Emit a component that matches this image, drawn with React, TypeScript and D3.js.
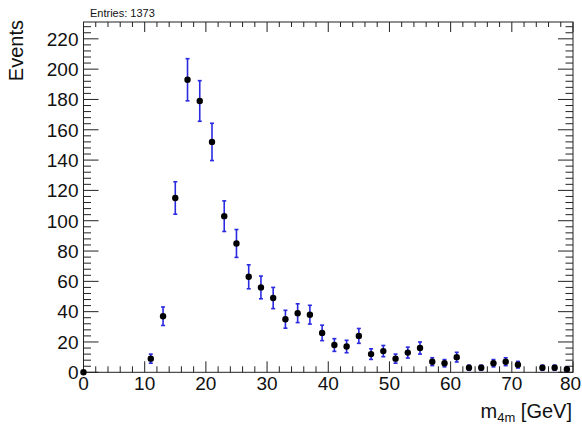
import React, { useEffect, useRef } from 'react';
import * as d3 from 'd3';

// bin centres (2 GeV bins), counts and errors
const binCenters = [0, 11, 13, 15, 17, 19, 21, 23, 25, 27, 29, 31, 33, 35, 37, 39, 41, 43, 45, 47, 49, 51, 53, 55, 57, 59, 61, 63, 65, 67, 69, 71, 75, 77, 79];
const counts = [0, 9, 37, 115, 193, 179, 152, 103, 85, 63, 56, 49, 35, 39, 38, 26, 18, 17, 24, 12, 14, 9, 13, 16, 7, 6, 10, 3, 3, 6, 7, 5, 3, 3, 2];
const errors = [0, 3, 6.1, 10.7, 13.9, 13.4, 12.3, 10.1, 9.2, 7.9, 7.5, 7, 5.9, 6.2, 6.2, 5.1, 4.2, 4.1, 4.9, 3.5, 3.7, 3, 3.6, 4, 2.6, 2.4, 3.2, 1.7, 1.7, 2.4, 2.6, 2.2, 1.7, 1.7, 1.4];
const xTicks = [0, 10, 20, 30, 40, 50, 60, 70, 80];
const yTicks = [0, 20, 40, 60, 80, 100, 120, 140, 160, 180, 200, 220];
const entries = 1373;

const W = 582, H = 425;
const left = 83.5, right = 573, top = 22, bottom = 372.3;
const font = "'Liberation Sans', Arial, sans-serif";

export default function App() {
  const ref = useRef<SVGSVGElement>(null);

  useEffect(() => {
    const svg = d3.select(ref.current);
    svg.selectAll('*').remove();

    const x = d3.scaleLinear().domain([0, 80]).range([left, right]);
    const y = d3.scaleLinear().domain([0, 231.1]).range([bottom, top]);
    const axisColor = '#222';

    // frame
    svg.append('rect')
      .attr('x', left).attr('y', top)
      .attr('width', right - left).attr('height', bottom - top)
      .attr('fill', 'none').attr('stroke', axisColor).attr('stroke-width', 1);

    const g = svg.append('g').attr('stroke', axisColor).attr('stroke-width', 1);

    // x ticks, bottom and top (minor every 2)
    d3.range(0, 81, 2).forEach(v => {
      const major = v % 10 === 0;
      const px = x(v);
      g.append('line').attr('x1', px).attr('x2', px)
        .attr('y1', bottom).attr('y2', bottom - (major ? 11 : 6));
      g.append('line').attr('x1', px).attr('x2', px)
        .attr('y1', top).attr('y2', top + (major ? 10 : 5));
    });
    // y ticks, left and right (minor every 4)
    d3.range(0, 229, 4).forEach(v => {
      const major = v % 20 === 0;
      const py = y(v);
      g.append('line').attr('y1', py).attr('y2', py)
        .attr('x1', left).attr('x2', left + (major ? 15 : 7.5));
      g.append('line').attr('y1', py).attr('y2', py)
        .attr('x1', right).attr('x2', right - (major ? 15 : 7.5));
    });

    // tick labels (last one kept inside the window)
    svg.append('g').selectAll('text').data(xTicks).join('text')
      .attr('x', d => Math.min(x(d), 570.5)).attr('y', 389.5)
      .attr('text-anchor', 'middle')
      .attr('font-family', font).attr('font-size', 19).attr('fill', '#111')
      .text(d => d);
    svg.append('g').selectAll('text').data(yTicks).join('text')
      .attr('x', 78.5).attr('y', d => y(d) + 6.8)
      .attr('text-anchor', 'end')
      .attr('font-family', font).attr('font-size', 19).attr('fill', '#111')
      .text(d => d);

    // axis titles
    svg.append('text')
      .attr('transform', 'translate(23,20) rotate(-90)')
      .attr('text-anchor', 'end')
      .attr('font-family', font).attr('font-size', 20).attr('fill', '#111')
      .text('Events');
    const xt = svg.append('text')
      .attr('x', 572).attr('y', 417.5)
      .attr('text-anchor', 'end')
      .attr('font-family', font).attr('font-size', 20).attr('fill', '#111');
    xt.append('tspan').text('m');
    xt.append('tspan').attr('font-size', 13).attr('dy', 4).text('4m');
    xt.append('tspan').attr('dy', -4).text(' [GeV]');

    svg.append('text')
      .attr('x', 90).attr('y', 16.5)
      .attr('font-family', font).attr('font-size', 11).attr('fill', '#111')
      .text(`Entries: ${entries}`);

    // error bars
    const idx = d3.range(binCenters.length).filter(i => errors[i] > 0);
    const eb = svg.append('g').attr('stroke', '#2a2ae0').attr('stroke-width', 1.6);
    idx.forEach(i => {
      const px = x(binCenters[i]);
      const y1 = y(counts[i] + errors[i]);
      const y0 = y(counts[i] - errors[i]);
      eb.append('line').attr('x1', px).attr('x2', px).attr('y1', y1).attr('y2', y0);
      eb.append('line').attr('x1', px - 2).attr('x2', px + 2).attr('y1', y1).attr('y2', y1);
      eb.append('line').attr('x1', px - 2).attr('x2', px + 2).attr('y1', y0).attr('y2', y0);
    });

    // markers
    svg.append('g').selectAll('circle').data(d3.range(binCenters.length)).join('circle')
      .attr('cx', i => x(binCenters[i]))
      .attr('cy', i => y(counts[i]))
      .attr('r', 3.2)
      .attr('fill', '#000');
  }, []);

  return (
    <svg ref={ref} width={W} height={H}
      style={{ position: 'absolute', left: 0, top: 0, background: '#fff' }} />
  );
}
